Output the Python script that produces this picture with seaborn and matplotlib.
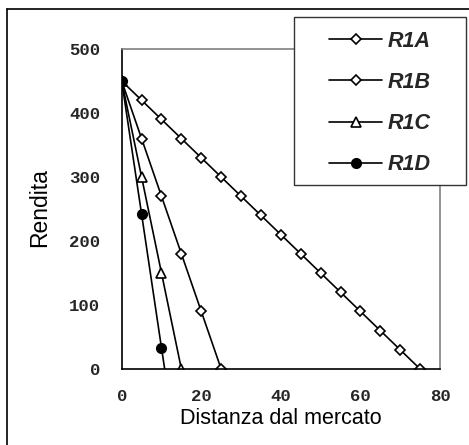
import matplotlib
matplotlib.use("Agg")
import matplotlib.pyplot as plt
import seaborn as sns
import pandas as pd
from matplotlib.lines import Line2D
from matplotlib.patches import Rectangle

# ---- data ----
r1a_x = [0, 5, 10, 15, 20, 25, 30, 35, 40, 45, 50, 55, 60, 65, 70, 75]
r1a_y = [450, 420, 390, 360, 330, 300, 270, 240, 210, 180, 150, 120, 90, 60, 30, 0]
r1b_x = [0, 5, 10, 15, 20, 25]
r1b_y = [450, 360, 270, 180, 90, 0]
r1c_x = [0, 5, 10, 15]
r1c_y = [450, 300, 150, 0]
r1d_x = [0, 5, 10, 10.8]
r1d_y = [450, 242, 33, 0]
r1d_marked = [0, 1, 2]
labels = ["R1A", "R1B", "R1C", "R1D"]
x_ticks = [0, 20, 40, 60, 80]
y_ticks = [0, 100, 200, 300, 400, 500]

sns.set_theme(style="white")
plt.rcParams['font.family'] = ['Liberation Sans', 'DejaVu Sans']

W, H = 469, 445
fig = plt.figure(figsize=(W / 100, H / 100), dpi=100)
ax = fig.add_axes([121.7 / W, 1 - 369 / H, (440 - 121.7) / W, (369 - 49) / H])

series = [
    (r1a_x, r1a_y, "D", 5.4, "white", None),
    (r1b_x, r1b_y, "D", 5.4, "white", None),
    (r1c_x, r1c_y, "^", 7.5, "white", None),
    (r1d_x, r1d_y, "o", 6.8, "black", r1d_marked),
]
for (xs, ys, mk, ms, fc, me), lab in zip(series, labels):
    df = pd.DataFrame({"x": xs, "y": ys})
    kw = {}
    if me is not None:
        kw["markevery"] = me
    sns.lineplot(data=df, x="x", y="y", ax=ax, sort=False, color="black",
                 linewidth=1.2, marker=mk, markersize=ms, markerfacecolor=fc,
                 markeredgecolor="black", markeredgewidth=1.2, label=lab,
                 clip_on=True, **kw)

ax.set_xlim(0, 80)
ax.set_ylim(0, 500)
ax.set_xticks(x_ticks)
ax.set_yticks(y_ticks)
mono = {"family": "Liberation Mono", "weight": "bold", "size": 12.5}
ax.set_xticklabels([str(v) for v in x_ticks], fontdict=mono)
ax.set_yticklabels([str(v) for v in y_ticks], fontdict=mono)
ax.tick_params(axis="both", direction="inout", length=9, width=1.1, color="black")
ax.tick_params(axis="y", pad=11)
ax.tick_params(axis="x", pad=10)

for s in ["left", "bottom"]:
    ax.spines[s].set_color("black")
    ax.spines[s].set_linewidth(1.2)
for s in ["top", "right"]:
    ax.spines[s].set_color("#808080")
    ax.spines[s].set_linewidth(1.2)

ax.set_xlabel("")
ax.set_ylabel("")
fig.text(281 / W, 1 - 419 / H, "Distanza dal mercato", ha="center", va="center",
         fontsize=15.5, color="black")
fig.text(40 / W, 1 - 208 / H, "Rendita", ha="center", va="center",
         rotation=90, fontsize=16.5, color="black")

# legend box
fig.patches.append(Rectangle((294 / W, 1 - 185 / H), (466 - 294) / W, (185 - 17) / H,
                             transform=fig.transFigure, facecolor="white",
                             edgecolor="#333333", linewidth=1.0, zorder=5))
ax.get_legend().remove()
handles, labs = ax.get_legend_handles_labels()
leg = fig.legend(handles, labs, loc="center", bbox_to_anchor=(380 / W, 1 - 103 / H),
                 frameon=False, prop={"family": "Liberation Sans", "weight": "bold",
                                      "style": "italic", "size": 15.5},
                 handlelength=2.45, handletextpad=0.25, labelspacing=0.94,
                 borderpad=0)
leg.set_zorder(6)

# outer frame
fig.add_artist(Line2D([7 / W, 7 / W], [0, 1 - 9 / H], transform=fig.transFigure,
                      color="black", linewidth=1.2))
fig.add_artist(Line2D([7 / W, 1], [1 - 9 / H, 1 - 9 / H], transform=fig.transFigure,
                      color="black", linewidth=1.2))

fig.savefig("out.png", dpi=100, facecolor="white")
